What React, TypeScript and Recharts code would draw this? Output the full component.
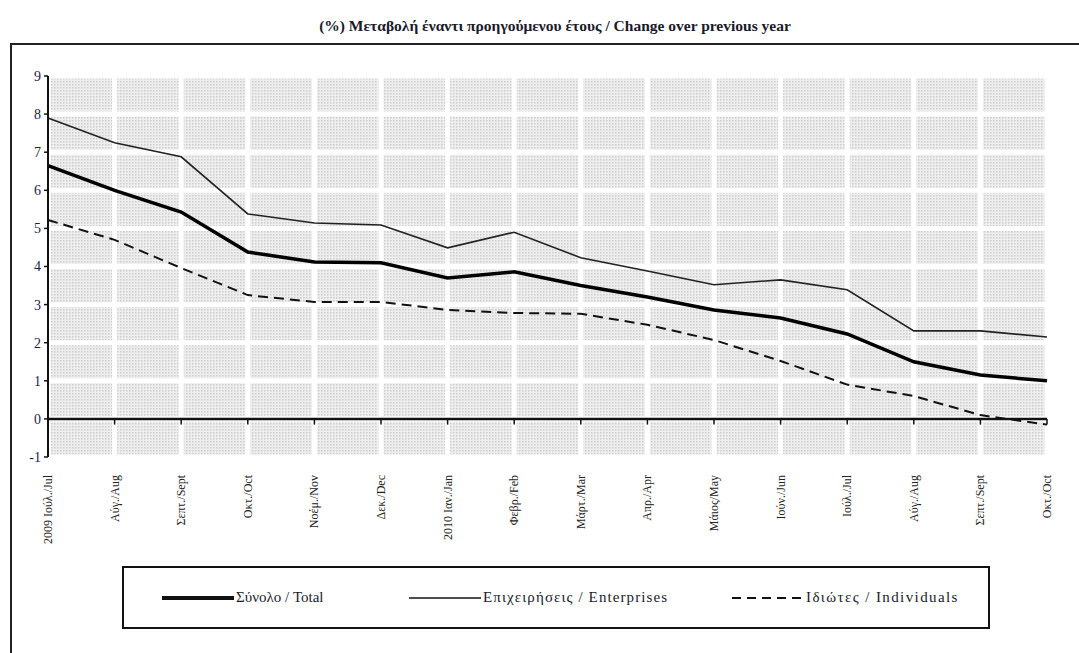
import React from 'react';
import { LineChart, Line, XAxis, YAxis, CartesianGrid, ReferenceLine } from 'recharts';

// Month labels (Greek / English), July 2009 – October 2010
const monthLabels = [
  '2009 Ιούλ./Jul', 'Αύγ./Aug', 'Σεπτ./Sept', 'Οκτ./Oct', 'Νοέμ./Nov', 'Δεκ./Dec',
  '2010 Ιαν./Jan', 'Φεβρ./Feb', 'Μάρτ./Mar', 'Απρ./Apr', 'Μάιος/May', 'Ιούν./Jun',
  'Ιούλ./Jul', 'Αύγ./Aug', 'Σεπτ./Sept', 'Οκτ./Oct',
];

// Annual % change
const totalValues = [6.65, 6.0, 5.43, 4.38, 4.12, 4.1, 3.7, 3.86, 3.5, 3.2, 2.86, 2.65, 2.23, 1.5, 1.15, 1.0];
const enterpriseValues = [7.9, 7.25, 6.88, 5.38, 5.14, 5.09, 4.49, 4.9, 4.23, 3.88, 3.52, 3.65, 3.39, 2.31, 2.31, 2.15];
const individualValues = [5.22, 4.7, 3.96, 3.25, 3.07, 3.07, 2.86, 2.78, 2.76, 2.47, 2.07, 1.52, 0.9, 0.6, 0.1, -0.15];

const yTicks = [-1, 0, 1, 2, 3, 4, 5, 6, 7, 8, 9];

const data = monthLabels.map((_, i) => ({
  i,
  total: totalValues[i],
  enterprises: enterpriseValues[i],
  individuals: individualValues[i],
}));

const SERIF = "'Times New Roman', 'Liberation Serif', Times, serif";

const XTick = (props: any) => {
  const { x, y, payload } = props;
  return (
    <text
      transform={`translate(${x + 4},${y + 18}) rotate(-90)`}
      textAnchor="end"
      style={{ fontFamily: SERIF, fontSize: 12 }}
      fill="#222"
    >
      {monthLabels[payload.value]}
    </text>
  );
};

const LegendItem = ({ left, lineW, dash, label, spacing }: any) => (
  <div style={{ position: 'absolute', left, top: 0, height: '100%', display: 'flex', alignItems: 'center' }}>
    <svg width={72} height={10} style={{ display: 'block' }}>
      <line x1={0} y1={5} x2={72} y2={5} stroke="#111" strokeWidth={lineW} strokeDasharray={dash} />
    </svg>
    <span
      style={{
        fontFamily: SERIF, fontSize: 15, color: '#1a1a2a', marginLeft: 2,
        whiteSpace: 'nowrap', letterSpacing: spacing,
      }}
    >
      {label}
    </span>
  </div>
);

export default function App() {
  return (
    <div style={{ position: 'absolute', left: 0, top: 0, width: 1079, height: 653, background: '#fff', overflow: 'hidden' }}>
      {/* frame */}
      <div style={{ position: 'absolute', left: 10, top: 43, width: 1069, height: 2, background: '#222' }} />
      <div style={{ position: 'absolute', left: 10, top: 43, width: 2, height: 610, background: '#222' }} />

      <div
        style={{
          position: 'absolute', left: 0, top: 17, width: 1110, textAlign: 'center',
          fontFamily: SERIF, fontSize: 15.5, fontWeight: 'bold', color: '#1a1a2a', whiteSpace: 'nowrap',
        }}
      >
        (%) Μεταβολή έναντι προηγούμενου έτους / Change over previous year
      </div>

      <div style={{ position: 'absolute', left: 0, top: 0 }}>
        <LineChart width={1079} height={653} data={data} margin={{ top: 76, right: 32, bottom: 86, left: 8 }}>
          <defs>
            <pattern id="dotFill" width="3" height="3" patternUnits="userSpaceOnUse">
              <rect width="3" height="3" fill="#eeeeee" />
              <rect width="1.5" height="1.5" fill="#cdcdcd" />
            </pattern>
          </defs>
          <CartesianGrid stroke="#fff" strokeWidth={5} fill="url(#dotFill)" fillOpacity={1} />
          <XAxis
            dataKey="i"
            type="category"
            axisLine={false}
            tickLine={false}
            tickSize={0}
            tickMargin={0}
            height={110}
            interval={0}
            tick={<XTick />}
          />
          <YAxis
            domain={[-1, 9]}
            ticks={yTicks}
            type="number"
            width={40}
            interval={0}
            axisLine={{ stroke: '#111', strokeWidth: 2 }}
            tickLine={{ stroke: '#111', strokeWidth: 1.5 }}
            tickSize={4}
            tickMargin={3}
            tick={{ fontFamily: SERIF, fontSize: 14, fill: '#1b2250' }}
          />
          <ReferenceLine y={0} stroke="#111" strokeWidth={2.5} />
          {data.map((d) => (
            <ReferenceLine
              key={`t${d.i}`}
              segment={[{ x: d.i, y: 0 }, { x: d.i, y: -0.15 }]}
              stroke="#111"
              strokeWidth={1.5}
            />
          ))}
          <Line type="linear" dataKey="enterprises" stroke="#222" strokeWidth={1.6} dot={false} isAnimationActive={false} />
          <Line type="linear" dataKey="individuals" stroke="#111" strokeWidth={2} strokeDasharray="10 6" dot={false} isAnimationActive={false} />
          <Line type="linear" dataKey="total" stroke="#000" strokeWidth={3.5} dot={false} isAnimationActive={false} />
        </LineChart>
      </div>

      {/* legend */}
      <div style={{ position: 'absolute', left: 122, top: 566, width: 864, height: 59, border: '2px solid #111', background: '#fff' }}>
        <LegendItem left={38} lineW={4} spacing={0} label="Σύνολο / Total" />
        <LegendItem left={285} lineW={1.6} spacing={1.1} label="Επιχειρήσεις / Enterprises" />
        <LegendItem left={608} lineW={2} dash="9 6" spacing={1.4} label="Ιδιώτες / Individuals" />
      </div>
    </div>
  );
}
